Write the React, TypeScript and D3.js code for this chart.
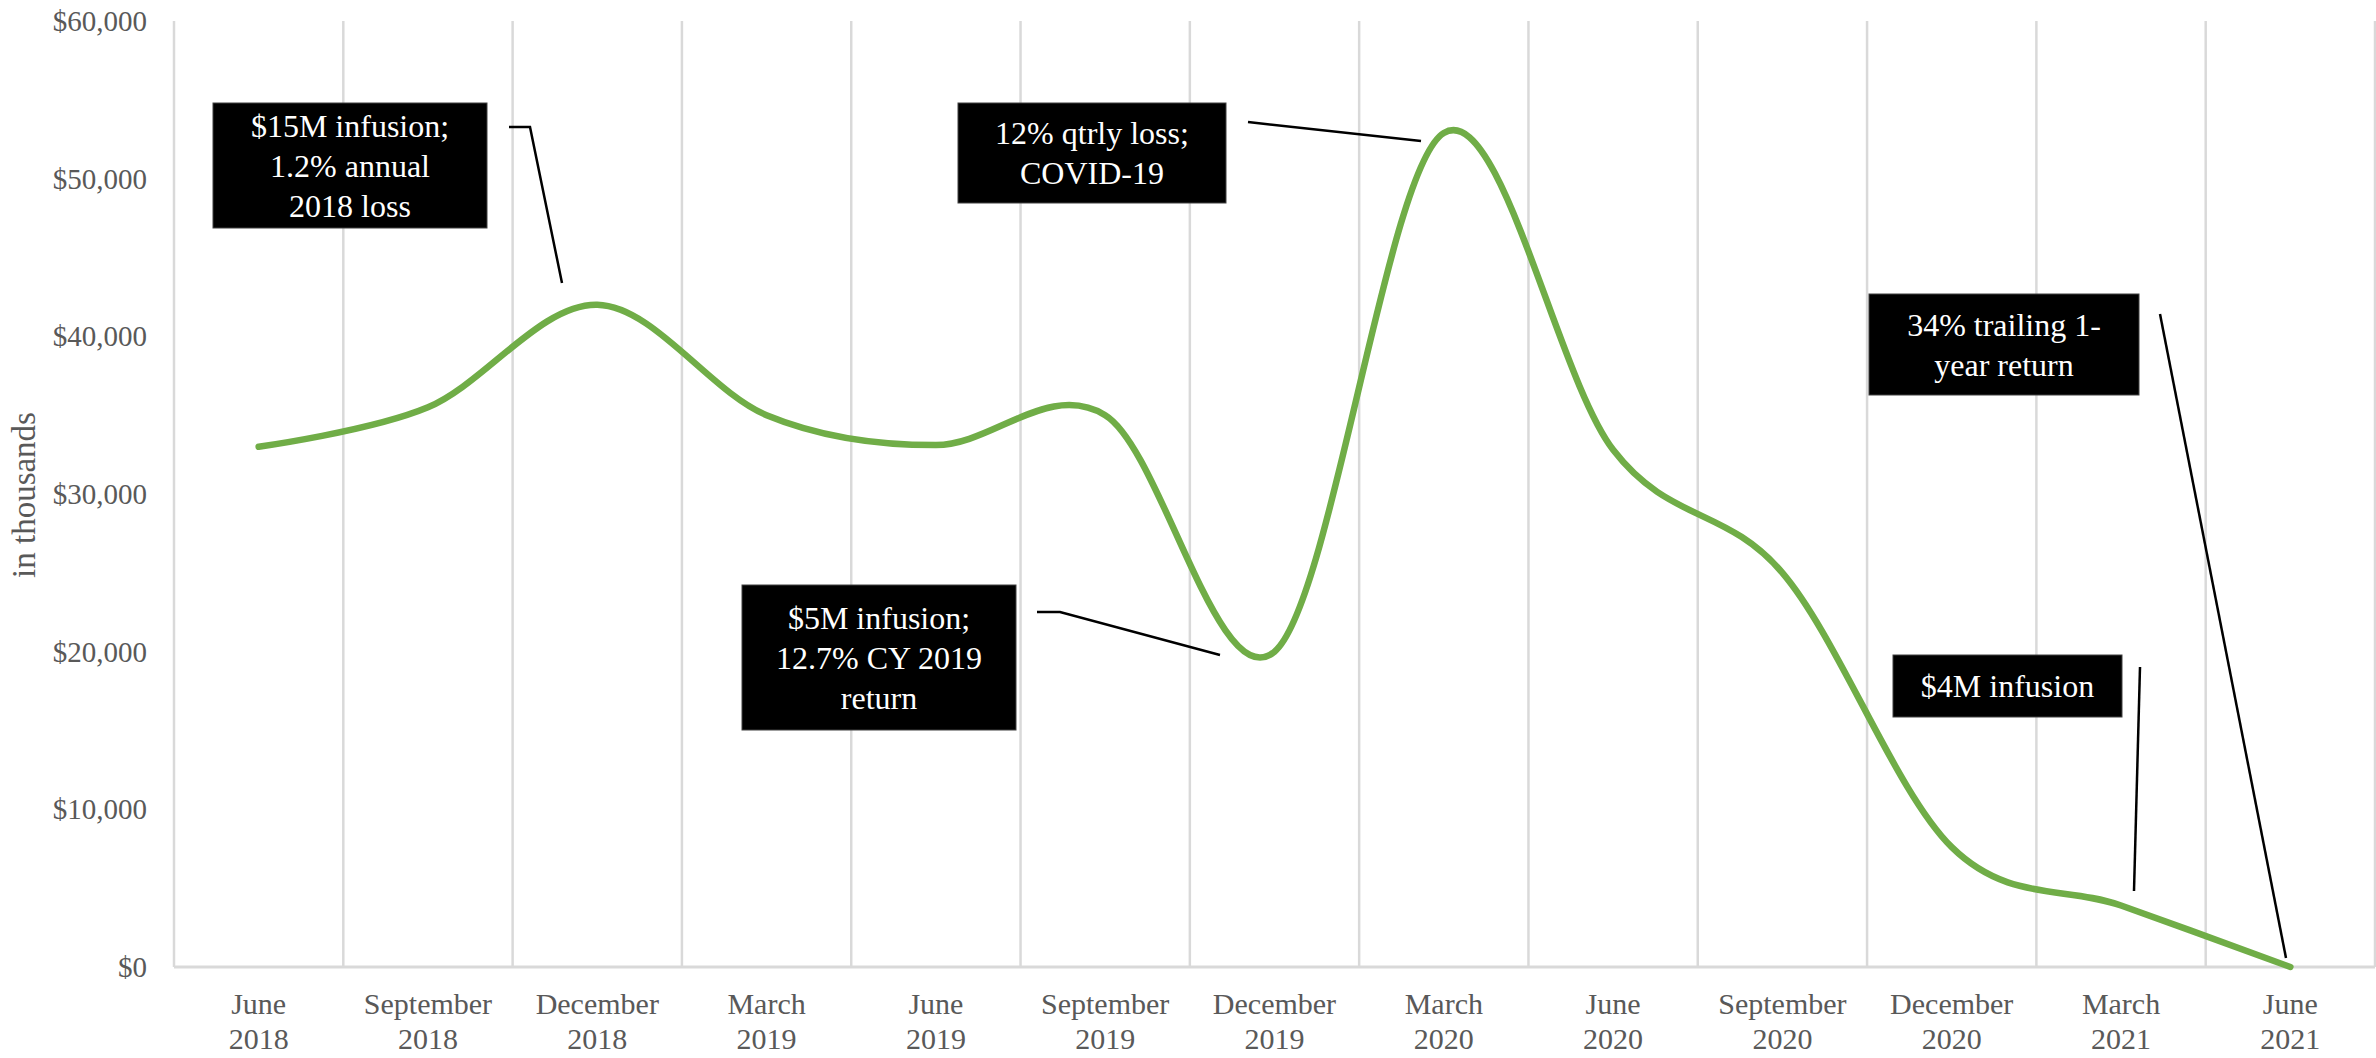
import React from "react";
import * as d3 from "d3";

// Quarter-end fund balance, in thousands of dollars
const categories = [
  "June 2018", "September 2018", "December 2018", "March 2019", "June 2019",
  "September 2019", "December 2019", "March 2020", "June 2020",
  "September 2020", "December 2020", "March 2021", "June 2021",
];
const balances = [33000, 35500, 42000, 35000, 33100, 35000, 20000, 52900, 32800, 25000, 7600, 3900, 0];
const yTicks = [0, 10000, 20000, 30000, 40000, 50000, 60000];

// Callout boxes with their leader lines (pixel layout)
const callouts = [
  { lines: ["$15M infusion;", "1.2% annual", "2018 loss"], box: [213, 103, 274, 125], leader: [[509, 127], [530, 127], [562, 283]] },
  { lines: ["12% qtrly loss;", "COVID-19"], box: [958, 103, 268, 100], leader: [[1248, 122], [1421, 141]] },
  { lines: ["$5M infusion;", "12.7% CY 2019", "return"], box: [742, 585, 274, 145], leader: [[1037, 612], [1060, 612], [1220, 655]] },
  { lines: ["34% trailing 1-", "year return"], box: [1869, 294, 270, 101], leader: [[2160, 314], [2286, 958]] },
  { lines: ["$4M infusion"], box: [1893, 655, 229, 62], leader: [[2140, 667], [2134, 891]] },
];

const W = 2376;
const H = 1058;
const plot = { left: 174, right: 2375, top: 21, bottom: 967 };
const FONT = "'Liberation Serif', 'Times New Roman', serif";

export default function App() {
  const x = d3.scaleBand<string>().domain(categories).range([plot.left, plot.right]).padding(0);
  const y = d3.scaleLinear().domain([0, 60000]).range([plot.bottom, plot.top]);
  const cx = (c: string) => (x(c) as number) + x.bandwidth() / 2;

  const line = d3
    .line<number>()
    .x((_, i) => cx(categories[i]))
    .y((v) => y(v))
    .curve(d3.curveCardinal.tension(0));

  const edges = categories.map((c) => x(c) as number).concat([plot.right]);
  const fmt = d3.format(",");

  return (
    <svg width={W} height={H} style={{ position: "absolute", left: 0, top: 0, background: "#fff" }} fontFamily={FONT}>
      {/* vertical gridlines at category boundaries */}
      {edges.map((ex, i) => (
        <line key={"g" + i} x1={ex} x2={ex} y1={plot.top} y2={plot.bottom} stroke="#d9d9d9" strokeWidth={2.5} />
      ))}
      {/* category axis baseline */}
      <line x1={plot.left} x2={plot.right} y1={plot.bottom} y2={plot.bottom} stroke="#d9d9d9" strokeWidth={3} />

      {/* value axis labels */}
      {yTicks.map((t) => (
        <text key={"y" + t} x={147} y={y(t)} textAnchor="end" dominantBaseline="central" fontSize={29} fill="#595959">
          {"$" + fmt(t)}
        </text>
      ))}
      <text
        transform={`translate(24, 495) rotate(-90)`}
        textAnchor="middle"
        dominantBaseline="central"
        fontSize={33}
        fill="#595959"
      >
        in thousands
      </text>

      {/* category labels */}
      {categories.map((c) => {
        const [m, yr] = c.split(" ");
        return (
          <text key={"x" + c} x={cx(c)} textAnchor="middle" fontSize={30} fill="#595959">
            <tspan x={cx(c)} y={1003} dominantBaseline="central">{m}</tspan>
            <tspan x={cx(c)} y={1038} dominantBaseline="central">{yr}</tspan>
          </text>
        );
      })}

      {/* balance line */}
      <path d={line(balances) || ""} fill="none" stroke="#70ad47" strokeWidth={6.5} strokeLinecap="round" strokeLinejoin="round" />

      {/* callouts */}
      {callouts.map((a, i) => {
        const [bx, by, bw, bh] = a.box;
        const mid = by + bh / 2;
        const spacing = 40;
        const start = mid - ((a.lines.length - 1) * spacing) / 2;
        return (
          <g key={"a" + i}>
            <polyline points={a.leader.map((p) => p.join(",")).join(" ")} fill="none" stroke="#000" strokeWidth={2.5} />
            <rect x={bx} y={by} width={bw} height={bh} fill="#000" stroke="#404040" strokeWidth={1} />
            {a.lines.map((l, j) => (
              <text
                key={j}
                x={bx + bw / 2}
                y={start + j * spacing}
                textAnchor="middle"
                dominantBaseline="central"
                fontSize={32}
                fill="#fff"
              >
                {l}
              </text>
            ))}
          </g>
        );
      })}
    </svg>
  );
}
